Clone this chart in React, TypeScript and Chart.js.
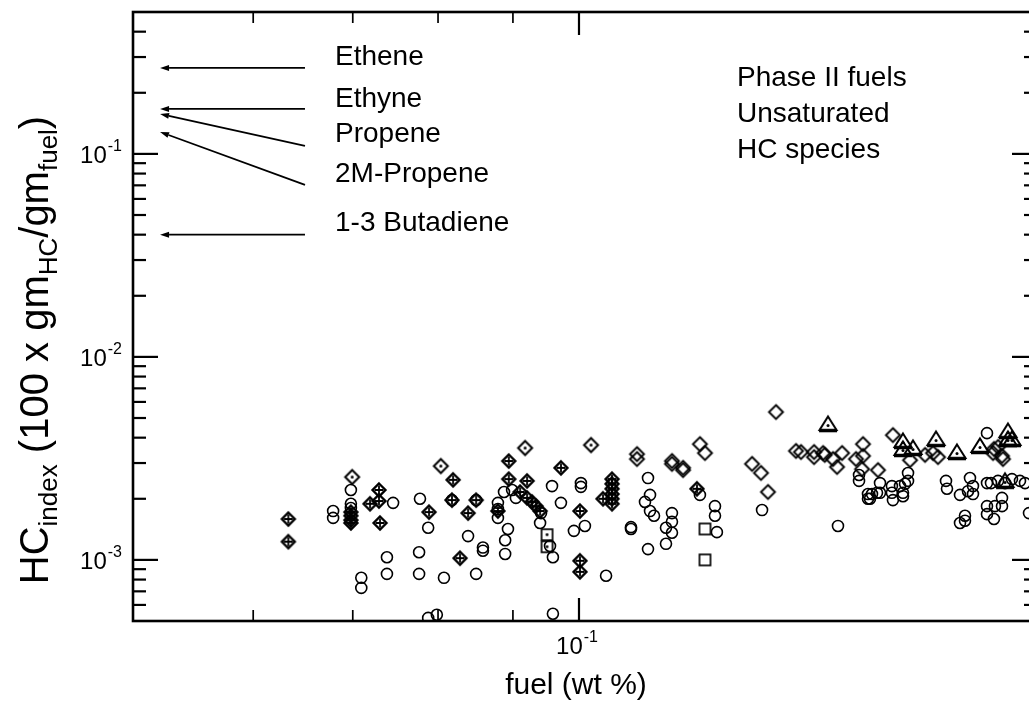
import { useEffect, useRef } from "react";
import { Chart, registerables } from "chart.js";

Chart.register(...registerables);

// ---------- axes ----------
const xRange = [0.01, 1.064];
const yRange = [5e-4, 0.5];
const xMajorTicks = [0.1];
const xMinorTicks = [0.0186, 0.0311, 0.0483, 0.0711];
const xTickLabels: [string, string][] = [["10", "-1"]];
const yMajorTicks = [1e-3, 1e-2, 1e-1];
const yMinorTicks = [
  6e-4, 7e-4, 8e-4, 9e-4,
  2e-3, 3e-3, 4e-3, 5e-3, 6e-3, 7e-3, 8e-3, 9e-3,
  2e-2, 3e-2, 4e-2, 5e-2, 6e-2, 7e-2, 8e-2, 9e-2,
  0.2, 0.3, 0.4,
];
const yTickLabels: [string, string][] = [["10", "-3"], ["10", "-2"], ["10", "-1"]];
const xTitle = "fuel (wt %)";
// y title pieces: [text, isSubscript]
const yTitle: [string, boolean][] = [
  ["HC", false], ["index", true], [" (100 x gm", false], ["HC", true],
  ["/gm", false], ["fuel", true], [")", false],
];

// ---------- data (fuel wt %, HC index) ----------
const circles: [number, number][] = [
  [0.0281, 1.74e-3], [0.0281, 1.61e-3], [0.0308, 2.21e-3], [0.0308, 1.89e-3], [0.0308, 1.80e-3],
  [0.0325, 0.816e-3], [0.0325, 0.728e-3], [0.0371, 1.03e-3], [0.0371, 0.853e-3], [0.0383, 1.91e-3],
  [0.0438, 1.09e-3], [0.0438, 0.853e-3], [0.044, 2.0e-3], [0.0459, 1.44e-3], [0.0459, 0.518e-3],
  [0.048, 0.537e-3], [0.0498, 0.816e-3], [0.0519, 1.97e-3], [0.0564, 1.31e-3], [0.0588, 1.97e-3],
  [0.0588, 0.853e-3], [0.0609, 1.15e-3], [0.0609, 1.11e-3], [0.0658, 1.91e-3], [0.0658, 1.78e-3],
  [0.0658, 1.61e-3], [0.0693, 1.42e-3], [0.0683, 1.25e-3], [0.0683, 1.07e-3], [0.0679, 2.16e-3],
  [0.0708, 2.21e-3], [0.0722, 2.02e-3], [0.0822, 1.70e-3], [0.0818, 1.52e-3], [0.0861, 1.17e-3],
  [0.0874, 1.03e-3], [0.087, 2.31e-3], [0.0911, 1.91e-3], [0.0874, 0.543e-3], [0.101, 2.39e-3],
  [0.101, 2.29e-3], [0.0974, 1.39e-3], [0.1031, 1.47e-3], [0.115, 0.835e-3], [0.1428, 2.53e-3],
  [0.1443, 2.09e-3], [0.1406, 1.93e-3], [0.1443, 1.74e-3], [0.1473, 1.65e-3], [0.1428, 1.13e-3],
  [0.1308, 1.45e-3], [0.1308, 1.42e-3], [0.1616, 1.70e-3], [0.1616, 1.54e-3], [0.1567, 1.44e-3],
  [0.1616, 1.36e-3], [0.1567, 1.20e-3], [0.1867, 2.09e-3], [0.2018, 1.84e-3], [0.2018, 1.65e-3],
  [0.2038, 1.37e-3], [0.2573, 1.76e-3], [0.3808, 1.47e-3], [0.4245, 2.62e-3], [0.4245, 2.45e-3],
  [0.4446, 2.11e-3], [0.4446, 2.0e-3], [0.4658, 2.14e-3], [0.5467, 2.68e-3], [0.5467, 2.45e-3],
  [0.5383, 2.37e-3], [0.4731, 2.39e-3], [0.4731, 2.14e-3], [0.4539, 2.11e-3], [0.4492, 2.0e-3],
  [0.5031, 2.31e-3], [0.5245, 2.31e-3], [0.5031, 2.14e-3], [0.5327, 2.14e-3], [0.5057, 1.97e-3],
  [0.5327, 2.06e-3], [0.6651, 2.45e-3], [0.6685, 2.24e-3], [0.7528, 2.53e-3], [0.7645, 2.31e-3],
  [0.7451, 2.18e-3], [0.715, 2.09e-3], [0.7645, 2.11e-3], [0.7336, 1.65e-3], [0.7336, 1.56e-3],
  [0.715, 1.52e-3], [0.8219, 4.21e-3], [0.8219, 2.39e-3], [0.839, 2.39e-3], [0.87, 2.45e-3],
  [0.902, 2.39e-3], [0.935, 2.5e-3], [0.9745, 2.45e-3], [1.0, 2.39e-3], [0.8219, 1.84e-3],
  [0.8563, 1.84e-3], [0.8881, 1.84e-3], [0.8881, 2.02e-3], [0.8219, 1.68e-3], [0.852, 1.59e-3],
  [1.0209, 1.70e-3],
];
const crossedDiamonds: [number, number][] = [
  [0.0223, 1.59e-3], [0.0223, 1.23e-3], [0.0308, 1.72e-3], [0.0308, 1.65e-3], [0.0308, 1.57e-3],
  [0.0308, 1.52e-3], [0.034, 1.89e-3], [0.0356, 2.21e-3], [0.0356, 1.95e-3], [0.0358, 1.52e-3],
  [0.0461, 1.72e-3], [0.0519, 1.97e-3], [0.0522, 2.48e-3], [0.0541, 1.02e-3], [0.0564, 1.70e-3],
  [0.0588, 1.97e-3], [0.0658, 1.74e-3], [0.0696, 3.07e-3], [0.0696, 2.5e-3], [0.0765, 2.45e-3],
  [0.0738, 2.16e-3], [0.0765, 2.02e-3], [0.0785, 1.93e-3], [0.0801, 1.84e-3], [0.0818, 1.74e-3],
  [0.0911, 2.84e-3], [0.1005, 1.74e-3], [0.1005, 0.99e-3], [0.1005, 0.873e-3], [0.1132, 2.0e-3],
  [0.1186, 2.5e-3], [0.1186, 2.37e-3], [0.1186, 2.24e-3], [0.1186, 2.11e-3], [0.1186, 2.0e-3],
  [0.1186, 1.89e-3], [0.1839, 2.24e-3],
];
const dottedDiamonds: [number, number][] = [
  [0.031, 2.56e-3], [0.049, 2.9e-3], [0.0757, 3.56e-3], [0.1064, 3.68e-3],
];
const openDiamonds: [number, number][] = [
  [0.1349, 3.32e-3], [0.1349, 3.14e-3], [0.1616, 3.07e-3], [0.1616, 2.97e-3], [0.1711, 2.84e-3],
  [0.1711, 2.77e-3], [0.1867, 3.72e-3], [0.1916, 3.36e-3], [0.2443, 2.97e-3], [0.2559, 2.68e-3],
  [0.2653, 2.16e-3], [0.2765, 5.35e-3], [0.3066, 3.44e-3], [0.3146, 3.4e-3], [0.3365, 3.4e-3],
  [0.3365, 3.21e-3], [0.3525, 3.36e-3], [0.3557, 3.29e-3], [0.3711, 3.14e-3], [0.3888, 3.36e-3],
  [0.3789, 2.87e-3], [0.4333, 3.72e-3], [0.4333, 3.25e-3], [0.4179, 3.14e-3], [0.4311, 2.8e-3],
  [0.4682, 2.77e-3], [0.5057, 4.12e-3], [0.5524, 3.1e-3], [0.5968, 3.29e-3], [0.622, 3.36e-3],
  [0.6382, 3.21e-3], [0.852, 3.52e-3], [0.87, 3.6e-3], [0.8478, 3.36e-3], [0.8927, 3.14e-3],
  [0.8881, 3.25e-3],
];
const dottedTriangles: [number, number][] = [
  [0.3617, 4.67e-3], [0.5327, 3.85e-3], [0.5327, 3.52e-3], [0.561, 3.56e-3], [0.6317, 3.94e-3],
  [0.7039, 3.4e-3], [0.7927, 3.64e-3], [0.9159, 4.31e-3], [0.9159, 3.94e-3], [0.935, 3.94e-3],
  [0.902, 2.45e-3],
];
const dottedSquares: [number, number][] = [[0.0848, 1.33e-3], [0.0848, 1.16e-3]];
const openSquares: [number, number][] = [[0.1916, 1.42e-3], [0.1916, 1.0e-3]];

// ---------- annotations ----------
const speciesNames = ["Ethene", "Ethyne", "Propene", "2M-Propene", "1-3 Butadiene"];
const arrowHeadY = [0.265, 0.1665, 0.1573, 0.1283, 0.04];
const arrowTailY = [0.265, 0.1665, 0.1095, 0.0704, 0.04];
const arrowHeadX = 0.0115;
const arrowTailX = 0.0243;
const noteLines = ["Phase II fuels", "Unsaturated", "HC species"];

const FONT = '"Liberation Sans", Arial, Helvetica, sans-serif';

function makeMarker(size: number, draw: (ctx: CanvasRenderingContext2D, c: number) => void) {
  const cv = document.createElement("canvas");
  cv.width = size;
  cv.height = size;
  const ctx = cv.getContext("2d")!;
  ctx.strokeStyle = "#000";
  ctx.fillStyle = "#000";
  draw(ctx, size / 2);
  return cv;
}

function diamondPath(ctx: CanvasRenderingContext2D, c: number, r: number) {
  ctx.beginPath();
  ctx.moveTo(c, c - r);
  ctx.lineTo(c + r, c);
  ctx.lineTo(c, c + r);
  ctx.lineTo(c - r, c);
  ctx.closePath();
}

const toXY = (arr: [number, number][]) => arr.map(([x, y]) => ({ x, y }));

export default function App() {
  const ref = useRef<HTMLCanvasElement | null>(null);

  useEffect(() => {
    if (!ref.current) return;

    const crossedDiamond = makeMarker(18, (ctx, c) => {
      ctx.lineWidth = 2.3;
      diamondPath(ctx, c, 6.5);
      ctx.stroke();
      ctx.lineWidth = 1.8;
      ctx.beginPath();
      ctx.moveTo(c - 4.5, c); ctx.lineTo(c + 4.5, c);
      ctx.moveTo(c, c - 4.5); ctx.lineTo(c, c + 4.5);
      ctx.stroke();
    });
    const dottedDiamond = makeMarker(19, (ctx, c) => {
      ctx.lineWidth = 2;
      diamondPath(ctx, c, 7);
      ctx.stroke();
      ctx.beginPath(); ctx.arc(c, c, 1.5, 0, Math.PI * 2); ctx.fill();
    });
    const openDiamond = makeMarker(19, (ctx, c) => {
      ctx.lineWidth = 1.9;
      diamondPath(ctx, c, 7);
      ctx.stroke();
    });
    const dottedTriangle = makeMarker(22, (ctx, c) => {
      ctx.lineWidth = 2;
      ctx.beginPath();
      ctx.moveTo(c, c - 7.5);
      ctx.lineTo(c + 8.5, c + 6);
      ctx.lineTo(c - 8.5, c + 6);
      ctx.closePath();
      ctx.stroke();
      ctx.lineWidth = 3.5;
      ctx.beginPath(); ctx.moveTo(c - 9, c + 6.5); ctx.lineTo(c + 9, c + 6.5); ctx.stroke();
      ctx.beginPath(); ctx.arc(c, c + 1.5, 1.5, 0, Math.PI * 2); ctx.fill();
    });
    const dottedSquare = makeMarker(15, (ctx, c) => {
      ctx.lineWidth = 1.7;
      ctx.strokeRect(c - 5.5, c - 5.5, 11, 11);
      ctx.beginPath(); ctx.arc(c, c, 1.4, 0, Math.PI * 2); ctx.fill();
    });
    const openSquare = makeMarker(15, (ctx, c) => {
      ctx.lineWidth = 1.7;
      ctx.strokeRect(c - 5.5, c - 5.5, 11, 11);
    });

    const imgDataset = (data: [number, number][], img: HTMLCanvasElement) => ({
      data: toXY(data),
      pointStyle: img as any,
      pointRadius: img.width / 2,
      pointHoverRadius: img.width / 2,
      showLine: false,
    });

    const decor = {
      id: "decor",
      afterDatasetsDraw(chart: any) {
        const { ctx, chartArea: a, scales } = chart;
        const xs = scales.x;
        const ys = scales.y;
        ctx.save();
        ctx.strokeStyle = "#000";
        ctx.fillStyle = "#000";
        ctx.lineCap = "butt";

        // frame
        ctx.lineWidth = 2.6;
        ctx.strokeRect(a.left, a.top, a.right - a.left, a.bottom - a.top);

        // tick marks (inward)
        const seg = (x1: number, y1: number, x2: number, y2: number) => {
          ctx.beginPath(); ctx.moveTo(x1, y1); ctx.lineTo(x2, y2); ctx.stroke();
        };
        ctx.lineWidth = 2.2;
        yMajorTicks.forEach((v) => {
          const p = ys.getPixelForValue(v);
          seg(a.left, p, a.left + 25, p);
          seg(a.right, p, a.right - 25, p);
        });
        yMinorTicks.forEach((v) => {
          const p = ys.getPixelForValue(v);
          seg(a.left, p, a.left + 13, p);
          seg(a.right, p, a.right - 13, p);
        });
        xMajorTicks.forEach((v) => {
          const p = xs.getPixelForValue(v);
          seg(p, a.bottom, p, a.bottom - 23);
          seg(p, a.top, p, a.top + 23);
        });
        ctx.lineWidth = 1.7;
        xMinorTicks.forEach((v) => {
          const p = xs.getPixelForValue(v);
          seg(p, a.bottom, p, a.bottom - 11);
          seg(p, a.top, p, a.top + 11);
        });

        // tick labels with superscripts
        ctx.textBaseline = "alphabetic";
        ctx.textAlign = "left";
        const measure = (base: string, sup: string) => {
          ctx.font = `24px ${FONT}`;
          const wb = ctx.measureText(base).width;
          ctx.font = `16px ${FONT}`;
          const ws = ctx.measureText(sup).width;
          return { wb, ws };
        };
        yMajorTicks.forEach((v, i) => {
          const p = ys.getPixelForValue(v);
          const [base, sup] = yTickLabels[i];
          const { wb, ws } = measure(base, sup);
          const x0 = a.left - 11 - wb - ws - 1;
          ctx.font = `24px ${FONT}`;
          ctx.fillText(base, x0, p + 9);
          ctx.font = `16px ${FONT}`;
          ctx.fillText(sup, x0 + wb + 1, p - 3);
        });
        xMajorTicks.forEach((v, i) => {
          const p = xs.getPixelForValue(v);
          const [base, sup] = xTickLabels[i];
          const { wb, ws } = measure(base, sup);
          const x0 = p - (wb + ws + 1) / 2 - 2;
          ctx.font = `24px ${FONT}`;
          ctx.fillText(base, x0, a.bottom + 33);
          ctx.font = `16px ${FONT}`;
          ctx.fillText(sup, x0 + wb + 1, a.bottom + 21);
        });

        // x title
        ctx.font = `30px ${FONT}`;
        ctx.textAlign = "center";
        ctx.fillText(xTitle, xs.getPixelForValue(0.1) - 3, a.bottom + 73);

        // y title (rotated, with subscripts)
        ctx.save();
        ctx.translate(48, 350);
        ctx.rotate(-Math.PI / 2);
        ctx.textAlign = "left";
        const bigF = `40px ${FONT}`;
        const subF = `26px ${FONT}`;
        let total = 0;
        const widths = yTitle.map(([t, sub]) => {
          ctx.font = sub ? subF : bigF;
          const w = ctx.measureText(t).width;
          total += w;
          return w;
        });
        let cx = -total / 2;
        yTitle.forEach(([t, sub], i) => {
          ctx.font = sub ? subF : bigF;
          ctx.fillText(t, cx, sub ? 9 : 0);
          cx += widths[i];
        });
        ctx.restore();

        // arrows to the axis
        ctx.lineWidth = 1.8;
        const hx = xs.getPixelForValue(arrowHeadX);
        const tx = xs.getPixelForValue(arrowTailX);
        speciesNames.forEach((_, i) => {
          const hy = ys.getPixelForValue(arrowHeadY[i]);
          const ty = ys.getPixelForValue(arrowTailY[i]);
          const ang = Math.atan2(hy - ty, hx - tx);
          const L = 9, W = 3;
          const bx = hx - L * Math.cos(ang);
          const by = hy - L * Math.sin(ang);
          seg(tx, ty, bx, by);
          ctx.beginPath();
          ctx.moveTo(hx, hy);
          ctx.lineTo(bx + W * Math.sin(ang), by - W * Math.cos(ang));
          ctx.lineTo(bx - W * Math.sin(ang), by + W * Math.cos(ang));
          ctx.closePath();
          ctx.fill();
        });

        // species labels
        ctx.textAlign = "left";
        ctx.textBaseline = "middle";
        ctx.font = `28px ${FONT}`;
        const labelY = [57, 99, 134, 174, 223];
        speciesNames.forEach((n, i) => ctx.fillText(n, 335, labelY[i]));

        // note
        noteLines.forEach((n, i) => ctx.fillText(n, 737, 78 + i * 36));

        ctx.restore();
      },
    };

    const chart = new Chart(ref.current, {
      type: "scatter",
      data: {
        datasets: [
          {
            data: toXY(circles),
            pointStyle: "circle",
            pointRadius: 5.5,
            pointHoverRadius: 5.5,
            borderColor: "#000",
            backgroundColor: "rgba(0,0,0,0)",
            borderWidth: 1.6,
          },
          imgDataset(crossedDiamonds, crossedDiamond),
          imgDataset(dottedDiamonds, dottedDiamond),
          imgDataset(openDiamonds, openDiamond),
          imgDataset(dottedTriangles, dottedTriangle),
          imgDataset(dottedSquares, dottedSquare),
          imgDataset(openSquares, openSquare),
        ] as any,
      },
      options: {
        responsive: false,
        devicePixelRatio: 1,
        animation: false,
        events: [],
        layout: { padding: { top: 9, right: 23, left: 0, bottom: 0 } },
        plugins: { legend: { display: false }, tooltip: { enabled: false } },
        scales: {
          x: {
            type: "logarithmic",
            min: xRange[0],
            max: xRange[1],
            grid: { display: false },
            border: { display: false },
            ticks: { display: false },
            afterFit: (s: any) => { s.height = 106; },
          },
          y: {
            type: "logarithmic",
            min: yRange[0],
            max: yRange[1],
            grid: { display: false },
            border: { display: false },
            ticks: { display: false },
            afterFit: (s: any) => { s.width = 133; },
          },
        },
      },
      plugins: [decor],
    });
    return () => chart.destroy();
  }, []);

  return (
    <div style={{ position: "fixed", left: 0, top: 0, width: 1029, height: 727, overflow: "hidden", background: "#fff" }}>
      <canvas ref={ref} width={1060} height={727} style={{ display: "block", width: 1060, height: 727 }} />
    </div>
  );
}
